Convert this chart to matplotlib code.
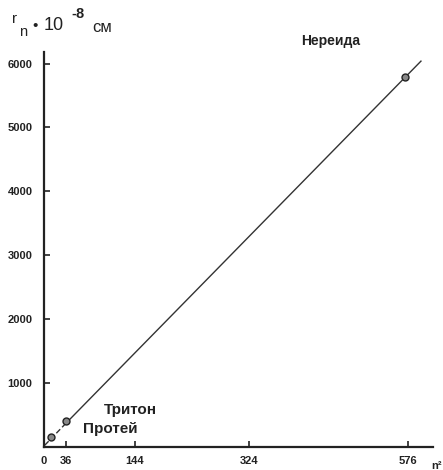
import matplotlib
matplotlib.use("Agg")
import matplotlib.pyplot as plt

plt.rcParams['font.family'] = ['Liberation Sans', 'DejaVu Sans']

# moons: n^2 vs r_n (10^-8 cm)
names = ["Протей", "Тритон", "Нереида"]
n2 = [12, 36, 571]
r = [144, 404, 5790]

# fitted line through the points
line_lo_x = [2, 36]
line_lo_y = [20, 370]
line_hi_x = [36, 596]
line_hi_y = [370, 6040]

xticks = [0, 36, 144, 324, 576]
yticks = [1000, 2000, 3000, 4000, 5000, 6000]

fig = plt.figure(figsize=(4.43, 4.70), dpi=100)
ax = fig.add_axes([43.5/443, 23.5/470, 389.5/443, 394.5/470])

ax.plot(line_lo_x, line_lo_y, color='#333333', lw=1.0, ls=(0, (4, 2)))
ax.plot(line_hi_x, line_hi_y, color='#333333', lw=1.0)
ax.plot(n2, r, 'o', ms=5, mfc='#888888', mec='#222222', mew=1.0)

ax.set_xlim(0, 615)
ax.set_ylim(0, 6183)
ax.set_xticks(xticks)
ax.set_yticks(yticks)
ax.set_xticklabels([str(v) for v in xticks], fontsize=8, fontweight='bold', color='#222222')
ax.set_yticklabels([str(v) for v in yticks], fontsize=8, fontweight='bold', color='#222222')
ax.tick_params(direction='in', length=4, width=1.2, colors='#222222', pad=7)
ax.tick_params(axis='y', pad=8)

for s in ['top', 'right']:
    ax.spines[s].set_visible(False)
for s in ['left', 'bottom']:
    ax.spines[s].set_linewidth(1.6)
    ax.spines[s].set_color('#222222')

# labels for moons
tc = '#222222'
ax.text(n2[2] - 118, r[2] + 560, names[2], fontsize=10, fontweight='bold',
        color=tc, ha='center', va='center')
ax.text(n2[1] + 102, r[1] + 168, names[1], fontsize=11, fontweight='bold',
        color=tc, ha='center', va='center')
ax.text(n2[0] + 93, r[0] + 130, names[0], fontsize=11, fontweight='bold',
        color=tc, ha='center', va='center')

# axis titles
fig.text(12/443, 1 - 19/470, "r", fontsize=11, color=tc, va='center')
fig.text(19/443, 1 - 32/470, "n", fontsize=10.5, color=tc, va='center')
fig.text(32/443, 1 - 26/470, "•", fontsize=11, color=tc, va='center')
fig.text(44/443, 1 - 26/470, "10", fontsize=13, color=tc, va='center')
fig.text(71/443, 1 - 14/470, "-8", fontsize=10.5, color=tc, va='center', fontweight='bold')
fig.text(92/443, 1 - 28/470, "см", fontsize=12, color=tc, va='center')
fig.text(431/443, 1 - 466/470, "n²", fontsize=8, color=tc, va='center', fontweight='bold')

fig.savefig("out.png", dpi=100)
